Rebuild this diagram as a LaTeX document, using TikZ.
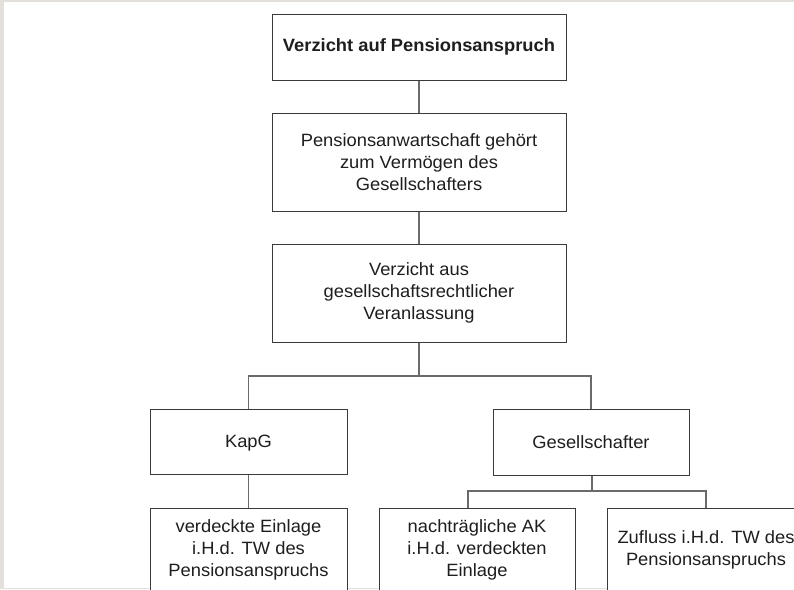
\documentclass[tikz,border=0pt]{standalone}
\usepackage{fontspec}
\setmainfont{Liberation Sans}[FakeStretch=1.03]
\definecolor{pagegray}{HTML}{E3E0DC}
\definecolor{boxline}{HTML}{3A3A3A}
\definecolor{linkline}{HTML}{6A6A6A}
\definecolor{inkcol}{HTML}{1E1E1E}
\tikzset{
  box/.style={draw=boxline, line width=1pt, fill=white, text=inkcol,
    align=center, inner sep=0pt,
    font=\fontsize{17.8}{21.7}\selectfont},
  link/.style={draw=linkline, line width=1.1pt}
}
\begin{document}
\begin{tikzpicture}[x=1pt,y=-1pt]
\useasboundingbox (0,0) rectangle (794,589);
\clip (0,0) rectangle (794,589);
\fill[pagegray] (0,0) rectangle (794,589);
\fill[white] (4,2) rectangle (794,588);

% main chain
\node[box, minimum width=294pt, minimum height=66pt, font=\fontsize{17.8}{21.7}\selectfont\bfseries]
  (verzicht) at (419,47) {Verzicht auf Pensionsanspruch};
\node[box, minimum width=294pt, minimum height=98pt]
  (vermoegen) at (419,162) {Pensionsanwartschaft gehört\\zum Vermögen des\\Gesellschafters};
\node[box, minimum width=294pt, minimum height=98pt]
  (anlass) at (419,293) {Verzicht aus\\gesellschaftsrechtlicher\\Veranlassung};

% second level
\node[box, minimum width=197pt, minimum height=65pt, text depth=0pt] (kapg) at (248.5,441.5) {KapG};
\node[box, minimum width=196pt, minimum height=66pt] (gesell) at (591,442) {Gesellschafter};

% third level (boxes run past the lower edge)
\node[box, minimum width=197pt, minimum height=84pt] (einlage) at (248.5,550)
  {verdeckte Einlage\\i.H.d. TW des\\Pensionsanspruchs};
\node[box, minimum width=196pt, minimum height=84pt] (ak) at (477,550)
  {nachträgliche AK\\i.H.d. verdeckten\\Einlage};
\node[box, minimum width=198pt, minimum height=84pt] (zufluss) at (706,550)
  {Zufluss i.H.d. TW des\\Pensionsanspruchs};

% junction points
\coordinate (j1) at (419,376);
\coordinate (j2) at (592,491);
\coordinate (akin) at (468,491);

% connectors
\draw[link] (verzicht.south) -- (vermoegen.north);
\draw[link] (vermoegen.south) -- (anlass.north);
\draw[link] (anlass.south) -- (j1);
\draw[link] (kapg.north) |- (j1) -| (gesell.north);
\draw[link] (kapg.south) -- (einlage.north);
\draw[link] (gesell.south -| j2) -- (j2);
\draw[link] (ak.north -| akin) -- (akin) -- (j2) -| (zufluss.north);
\end{tikzpicture}
\end{document}
